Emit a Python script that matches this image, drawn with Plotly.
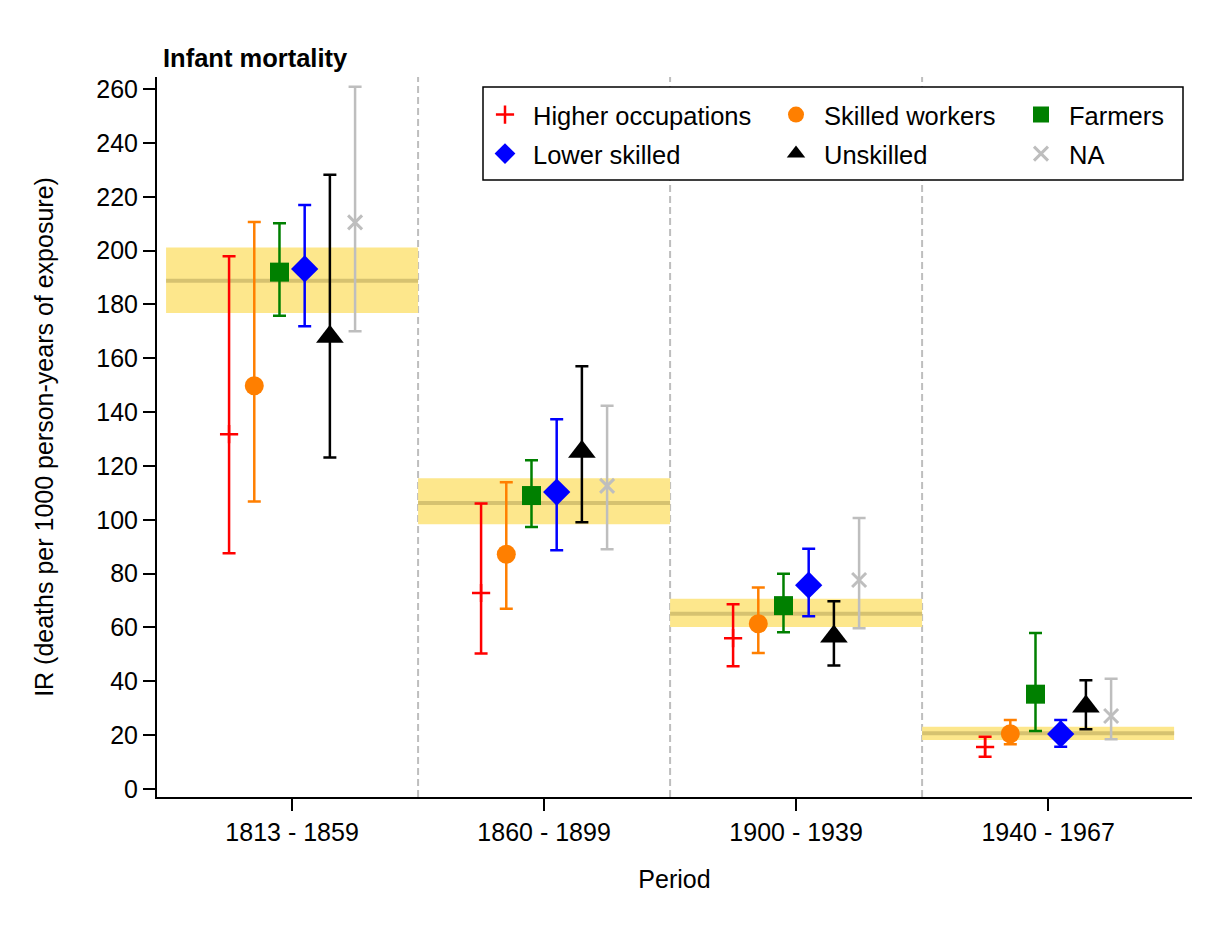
import plotly.graph_objects as go

# ---------------- data ----------------
periods = ["1813 - 1859", "1860 - 1899", "1900 - 1939", "1940 - 1967"]

groups = ["Higher occupations", "Skilled workers", "Farmers",
          "Lower skilled", "Unskilled", "NA"]

higher_est = [131.8, 72.8, 56.0, 15.6]
higher_lo = [87.6, 50.3, 45.6, 12.0]
higher_hi = [197.9, 106.0, 68.6, 19.4]

skilled_est = [149.8, 87.2, 61.4, 20.5]
skilled_lo = [106.8, 66.9, 50.5, 16.6]
skilled_hi = [210.6, 113.9, 74.8, 25.6]

farmers_est = [192.0, 109.0, 68.1, 35.2]
farmers_lo = [175.8, 97.3, 58.2, 21.5]
farmers_hi = [210.2, 122.1, 79.9, 57.9]

lower_est = [193.2, 110.3, 75.7, 20.4]
lower_lo = [171.9, 88.7, 64.2, 15.7]
lower_hi = [216.9, 137.3, 89.2, 25.6]

unskilled_est = [168.0, 125.3, 56.6, 30.6]
unskilled_lo = [123.1, 99.1, 45.9, 22.2]
unskilled_hi = [228.2, 157.0, 69.7, 40.4]

na_est = [210.5, 112.6, 77.6, 27.1]
na_lo = [170.0, 89.0, 59.7, 18.5]
na_hi = [260.9, 142.4, 100.7, 40.9]

overall_est = [188.8, 106.2, 65.1, 20.7]
overall_lo = [176.8, 98.3, 60.2, 18.2]
overall_hi = [201.2, 115.4, 70.7, 23.1]

y_ticks = list(range(0, 261, 20))

# ---------------- styles ----------------
FONT = "Liberation Sans, Arial, sans-serif"
FS = 25
LFS = 25.5
series = [
    # name, est, lo, hi, color, symbol, size, line width, offset
    ("Higher occupations", higher_est, higher_lo, higher_hi, "#FF0000", "cross-thin", 13, 2.5, -0.25),
    ("Skilled workers", skilled_est, skilled_lo, skilled_hi, "#FF7F00", "circle", 19, 0, -0.15),
    ("Farmers", farmers_est, farmers_lo, farmers_hi, "#008000", "square", 19, 0, -0.05),
    ("Lower skilled", lower_est, lower_lo, lower_hi, "#0000FF", "diamond", 21, 0, 0.05),
    ("Unskilled", unskilled_est, unskilled_lo, unskilled_hi, "#000000", "triangle-up", 24, 0, 0.15),
    ("NA", na_est, na_lo, na_hi, "#BEBEBE", "x-thin", 14, 3, 0.25),
]

ITEMW = 46
SYM_OFF = ITEMW / 2 + 5
# legend placement: (legend id, x px of symbol centre, y px of row centre)
legend_slots = {
    "Higher occupations": ("legend", 505, 115),
    "Skilled workers": ("legend2", 796, 115),
    "Farmers": ("legend3", 1041, 115),
    "Lower skilled": ("legend4", 505, 154),
    "Unskilled": ("legend5", 796, 154),
    "NA": ("legend6", 1041, 154),
}

L, R, T, B = 157, 33, 77, 133
W, H = 1225, 930
PW, PH = W - L - R, H - T - B


def px2paper_x(px):
    return (px - L) / PW


def px2paper_y(py):
    return (H - B - py) / PH


fig = go.Figure()

for name, est, lo, hi, color, symbol, size, lw, off in series:
    xs = [i + off for i in range(len(periods))]
    plus = [h - e for h, e in zip(hi, est)]
    minus = [e - l for e, l in zip(est, lo)]
    lid = legend_slots[name][0]
    fig.add_trace(go.Scatter(
        x=xs, y=est, mode="markers", name=name,
        legend=lid,
        marker=dict(color=color, symbol=symbol, size=size,
                    line=dict(color=color, width=lw)),
        error_y=dict(type="data", array=plus, arrayminus=minus,
                     color=color, thickness=2.5, width=6.5, visible=True),
        hoverinfo="x+y",
    ))

shapes = []
for i in range(len(periods)):
    shapes.append(dict(type="rect", xref="x", yref="y",
                       x0=i - 0.5, x1=i + 0.5, y0=overall_lo[i], y1=overall_hi[i],
                       fillcolor="rgb(253,231,140)", line=dict(width=0), layer="below"))
    shapes.append(dict(type="line", xref="x", yref="y",
                       x0=i - 0.5, x1=i + 0.5, y0=overall_est[i], y1=overall_est[i],
                       line=dict(color="rgb(214,194,112)", width=4), layer="below"))
for i in range(len(periods) - 1):
    shapes.append(dict(type="line", xref="x", yref="paper",
                       x0=i + 0.5, x1=i + 0.5, y0=0, y1=1,
                       line=dict(color="#BEBEBE", width=2, dash="7px,4px"), layer="below"))
# legend frame
shapes.append(dict(type="rect", xref="paper", yref="paper",
                   x0=px2paper_x(483), x1=px2paper_x(1183),
                   y0=px2paper_y(180), y1=px2paper_y(87),
                   line=dict(color="black", width=1.5), fillcolor="white", layer="below"))

layout_legends = {}
for name, (lid, sx, sy) in legend_slots.items():
    layout_legends[lid] = dict(
        x=px2paper_x(sx - SYM_OFF), y=px2paper_y(sy), xanchor="left", yanchor="middle",
        bgcolor="rgba(0,0,0,0)", borderwidth=0,
        font=dict(family=FONT, size=LFS, color="black"),
        itemsizing="trace", itemwidth=ITEMW,
    )

fig.update_layout(
    width=W, height=H,
    margin=dict(l=L, r=R, t=T, b=B, autoexpand=False),
    paper_bgcolor="white", plot_bgcolor="white",
    font=dict(family=FONT, size=FS, color="black"),
    showlegend=True,
    shapes=shapes,
    title=dict(text="<b>Infant mortality</b>", x=px2paper_x(163), xref="paper",
               xanchor="left", y=1 - 58 / H, yanchor="middle",
               font=dict(family=FONT, size=LFS, color="black")),
    xaxis=dict(range=[-0.536, 3.571], tickvals=list(range(len(periods))),
               ticktext=periods, showline=True, linecolor="black", linewidth=2,
               ticks="outside", ticklen=12, tickwidth=2, tickcolor="black",
               showgrid=False, zeroline=False,
               tickfont=dict(family=FONT, size=FS, color="black"),
               title=dict(text="Period", standoff=25,
                          font=dict(family=FONT, size=FS, color="black"))),
    yaxis=dict(range=[-3, 264.5], tickvals=y_ticks, showline=True,
               linecolor="black", linewidth=2, ticks="outside", ticklen=12,
               tickwidth=2, tickcolor="black", showgrid=False, zeroline=False,
               ticklabelstandoff=0,
               tickfont=dict(family=FONT, size=FS, color="black"),
               title=dict(text="IR (deaths per 1000 person-years of exposure)",
                          standoff=36,
                          font=dict(family=FONT, size=FS, color="black"))),
    **layout_legends,
)

fig.write_html("out.html")
